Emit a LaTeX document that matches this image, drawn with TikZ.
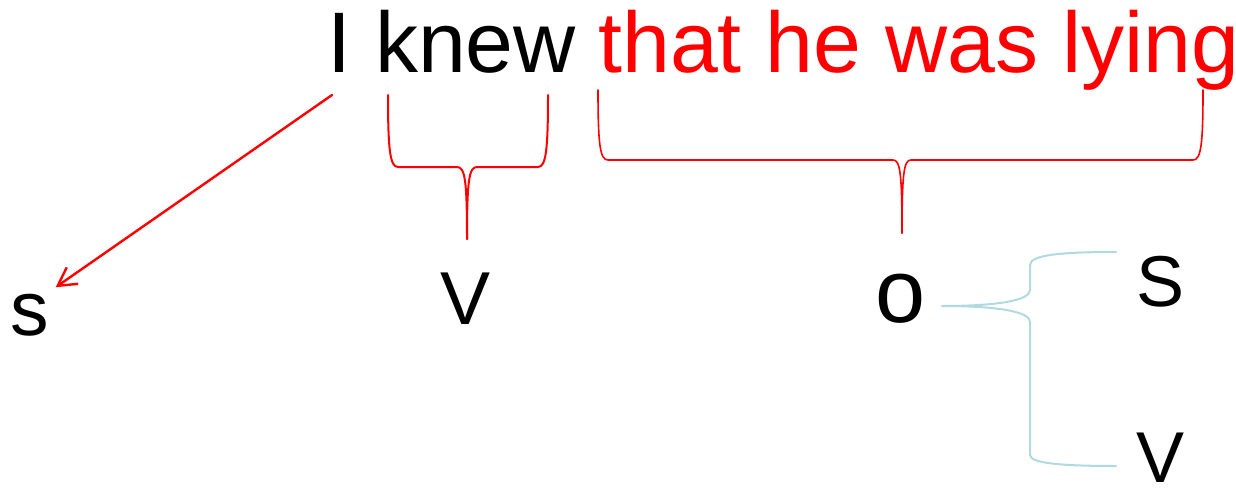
\documentclass[tikz,border=0pt]{standalone}
\usepackage{fontspec}
\setmainfont{Liberation Sans}
\usetikzlibrary{arrows.meta}
\definecolor{paleblue}{RGB}{176,218,224}

\begin{document}
\begin{tikzpicture}[x=0.5pt,y=-0.5pt]
\tikzset{
  word/.style={inner sep=0pt,anchor=base,text=black},
  bigword/.style={word,font=\fontsize{43}{50}\selectfont},
  redbrace/.style={draw=red,line width=1pt,line cap=round,line join=round},
  bluebrace/.style={draw=paleblue,line width=1pt,line cap=round,line join=round},
  pointer/.style={draw=red,line width=1.2pt,line cap=round,-{Straight Barb[length=9pt,width=10pt,line width=1.2pt]}}
}
\useasboundingbox (0,0) rectangle (1236,487);
% sentence
\node[bigword,anchor=base west] (n_Iknew) at (327,72) {I knew};
\node[bigword,anchor=base west,text=red] (n_clause) at (598,72) {that he was lying};
% parts
\node[word,inner sep=3pt,font=\fontsize{38.5}{44}\selectfont] (n_s) at (30,335) {s};
\node[word,font=\fontsize{37.5}{44}\selectfont] (n_v) at (466,324) {V};
\node[word,font=\fontsize{45}{52}\selectfont] (n_o) at (901,322) {o};
\node[word,font=\fontsize{36}{42}\selectfont] (n_S) at (1160,306) {S};
\node[word,font=\fontsize{36}{42}\selectfont] (n_V) at (1160,482) {V};
% subject arrow
\coordinate (c_fromI) at (332,95);
\draw[pointer] (c_fromI) -- (n_s.north east);
% brace under "knew"
\draw[redbrace] (388,95) .. controls (388,150) and (390,167) .. (398,167) -- (457,167)
  .. controls (465,167) and (467,180) .. (467,239);
\draw[redbrace] (548,95) .. controls (548,150) and (546,167) .. (538,167) -- (477,167)
  .. controls (469,167) and (467,180) .. (467,239);
% brace under the clause
\draw[redbrace,line width=0.8pt] (598,90) .. controls (598,145) and (600,160) .. (608,160) -- (893,160)
  .. controls (900,160) and (902,172) .. (902,233);
\draw[redbrace,line width=0.8pt] (1203,90) .. controls (1203,145) and (1201,160) .. (1193,160) -- (911,160)
  .. controls (904,160) and (902,172) .. (902,233);
% brace from o to S and V
\draw[bluebrace] (942,306) .. controls (1000,306) and (1030,300) .. (1030,290) -- (1030,265)
  .. controls (1030,255) and (1060,252) .. (1116,252);
\draw[bluebrace] (942,306) .. controls (1000,306) and (1030,312) .. (1030,322) -- (1030,455)
  .. controls (1030,463) and (1060,466) .. (1116,466);
\end{tikzpicture}
\end{document}
